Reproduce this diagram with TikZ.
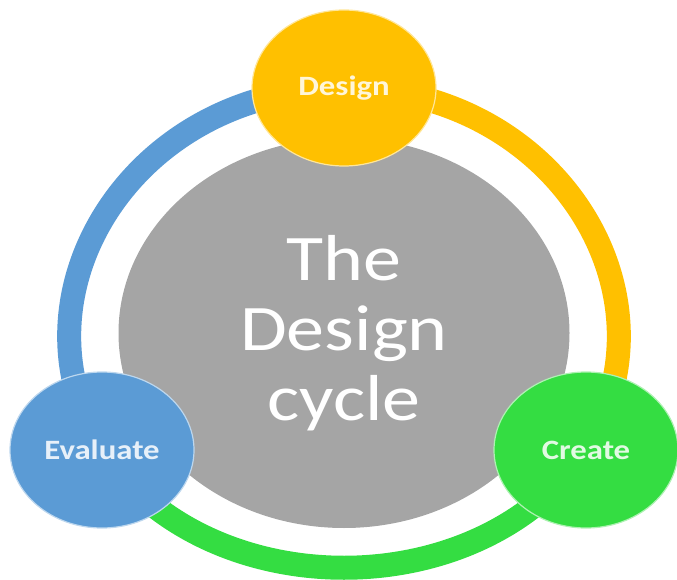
\documentclass[tikz,border=0pt]{standalone}
\usepackage{fontspec}
\setmainfont{Carlito}[FakeStretch=1.17]
\usetikzlibrary{shapes.geometric,backgrounds}
\definecolor{cycblue}{RGB}{91,155,213}
\definecolor{cycorange}{RGB}{255,192,0}
\definecolor{cycgreen}{RGB}{52,221,66}
\definecolor{cycgray}{RGB}{165,165,165}

\begin{document}
\begin{tikzpicture}[x=1pt,y=1pt,
    stage/.style={ellipse,minimum width=184,minimum height=156,inner sep=0pt,
      line width=1.2pt,font=\fontsize{28}{30}\selectfont\bfseries},
    ring/.style={line width=24pt}]
    \useasboundingbox (0,0) rectangle (677,579);
    \node (Cyc) at (344,246) [ellipse,fill=cycgray,minimum width=451,minimum height=390,
      align=center,text=white,font=\fontsize{65}{70}\selectfont] {The\\Design\\cycle};
    \node (Des) at (344,491) [stage,fill=cycorange,draw=white!60!cycorange,text=white!85!cycorange] {Design};
    \node (Eva) at (102,129) [stage,fill=cycblue,draw=white!60!cycblue,text=white!85!cycblue] {Evaluate};
    \node (Cre) at (586,129) [stage,fill=cycgreen,draw=white!60!cycgreen,text=white!85!cycgreen] {Create};

    \begin{pgfonlayer}{background}
      \draw[ring, cycblue] (Eva.center) .. controls +(-97,157) and +(-210,0) .. (Des.center);
      \draw[ring, cycorange] (Des.center) .. controls +(210,0) and +(97,157) .. (Cre.center);
      \draw[ring, cycgreen] (Cre.center) .. controls +(-105,-157) and +(105,-157) .. (Eva.center);
    \end{pgfonlayer}
\end{tikzpicture}
\end{document}
